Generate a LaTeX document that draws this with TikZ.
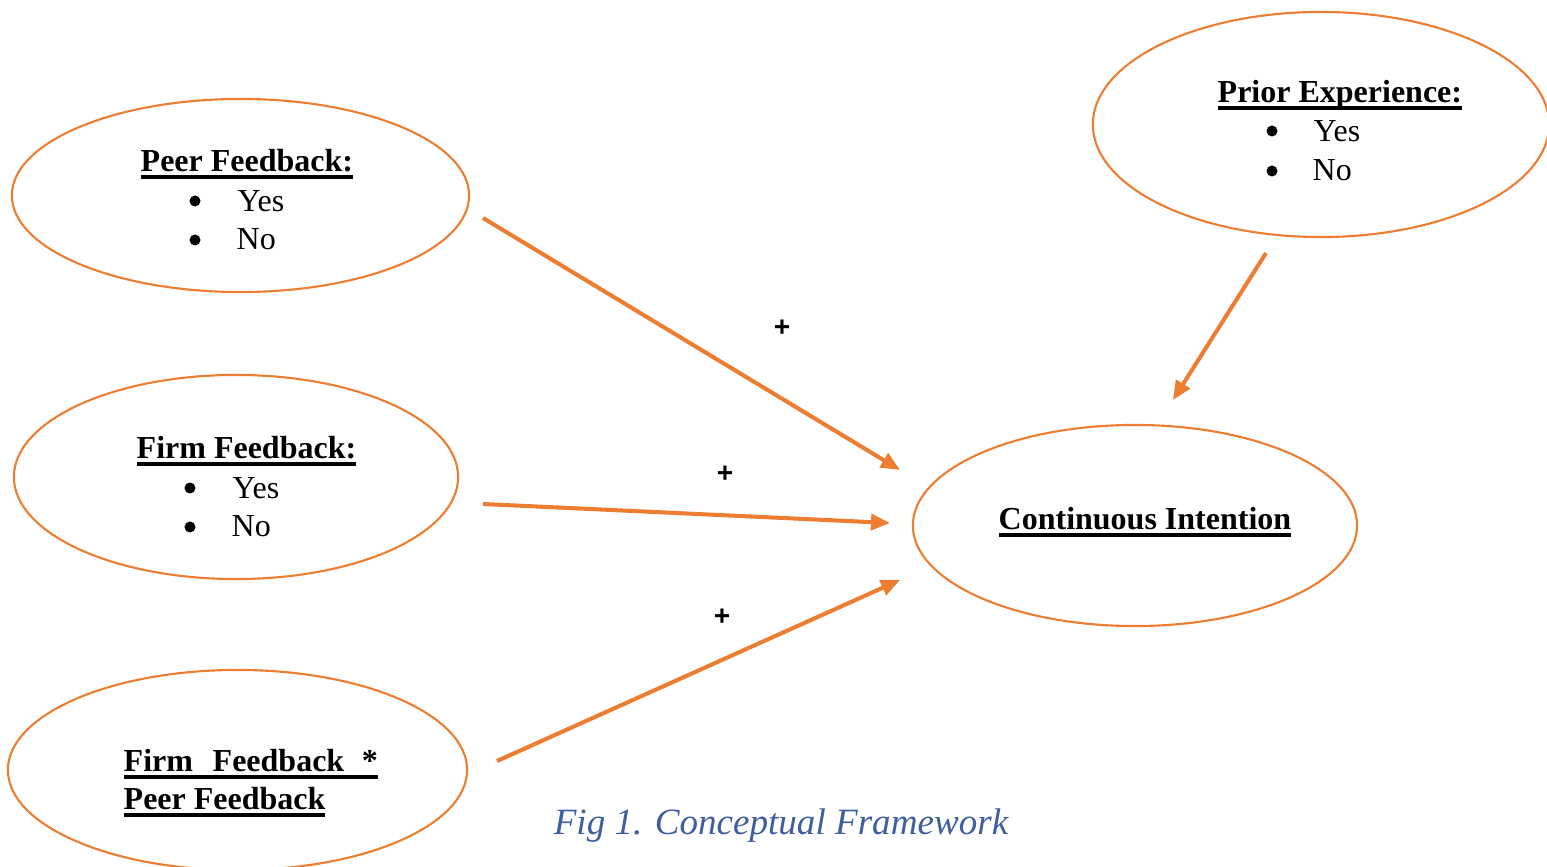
\documentclass[tikz,border=0pt]{standalone}
\usepackage{fontspec}
\setmainfont{Liberation Serif}
\newfontfamily\plusfont{Liberation Sans}
\usetikzlibrary{shapes.geometric,arrows.meta}
\definecolor{orng}{HTML}{ED7D31}
\definecolor{capblue}{HTML}{3F5E9E}
\newcommand\myul[1]{\leavevmode\setbox0=\hbox{#1}\rlap{\smash{\rule[-2pt]{\wd0}{1.1pt}}}\box0}
\tikzset{
  oval/.style={draw=orng, line width=0.6pt, ellipse, inner sep=0pt},
  ttl/.style={anchor=base west, inner sep=0pt, font=\fontsize{9.1}{11}\selectfont\bfseries},
  itm/.style={anchor=base west, inner sep=0pt, font=\fontsize{9.1}{11}\selectfont},
  bul/.style={fill=black},
  plus/.style={anchor=center, inner sep=0pt, font=\fontsize{8}{8}\selectfont\plusfont\bfseries},
  arr/.style={draw=orng, line width=1.15pt, -{Triangle[length=0.19cm,width=0.16cm]}}
}
\begin{document}
\begin{tikzpicture}[x=0.01cm,y=-0.01cm]
\useasboundingbox (0,0) rectangle (1547,867);
% ellipses
\node[oval, minimum width=4.57cm, minimum height=1.93cm] (peer) at (240.5,195.5) {};
\node[oval, minimum width=4.44cm, minimum height=2.04cm] (firm) at (236,477) {};
\node[oval, minimum width=4.59cm, minimum height=2.00cm] (inter) at (237.5,770) {};
\node[oval, minimum width=4.56cm, minimum height=2.25cm] (prior) at (1321,124.5) {};
\node[oval, minimum width=4.44cm, minimum height=2.01cm] (cont) at (1135,525.5) {};
% texts
\node[ttl] (peerT) at (140,172) {\myul{Peer Feedback:}};
\fill[bul] (195,201) circle (0.055cm);
\node[itm] (peerY) at (237,212) {Yes};
\fill[bul] (195,240) circle (0.055cm);
\node[itm] (peerN) at (236,250) {No};

\node[ttl] (firmT) at (136,459) {\myul{Firm Feedback:}};
\fill[bul] (190,488) circle (0.055cm);
\node[itm] (firmY) at (232,499) {Yes};
\fill[bul] (190,527) circle (0.055cm);
\node[itm] (firmN) at (231,537) {No};

\node[ttl] (interT1) at (123,772) {\myul{Firm\hspace{5.6pt}Feedback\hspace{5pt}*}};
\node[ttl] (interT2) at (123,810) {\myul{Peer Feedback}};

\node[ttl] (priorT) at (1217,103) {\myul{Prior Experience:}};
\fill[bul] (1272,131) circle (0.055cm);
\node[itm] (priorY) at (1313,142) {Yes};
\fill[bul] (1272,171) circle (0.055cm);
\node[itm] (priorN) at (1312,181) {No};

\node[ttl] (contT) at (998,530) {\myul{Continuous Intention}};

% arrows
\coordinate (a1s) at (483,218); \coordinate (a1e) at (900,470);
\coordinate (a2s) at (483,504); \coordinate (a2e) at (890,523);
\coordinate (a3s) at (497,761); \coordinate (a3e) at (900,580);
\coordinate (a4s) at (1266,253); \coordinate (a4e) at (1173,400);
\draw[arr] (a1s) -- (a1e);
\draw[arr] (a2s) -- (a2e);
\draw[arr] (a3s) -- (a3e);
\draw[arr] (a4s) -- (a4e);

\node[plus] (p1) at (782,328) {+};
\node[plus] (p2) at (725,474) {+};
\node[plus] (p3) at (722,617) {+};

\node[anchor=base, inner sep=0pt, text=capblue, font=\fontsize{10.55}{12}\selectfont\itshape] (cap) at (781,835) {Fig 1. Conceptual Framework};
\end{tikzpicture}
\end{document}
